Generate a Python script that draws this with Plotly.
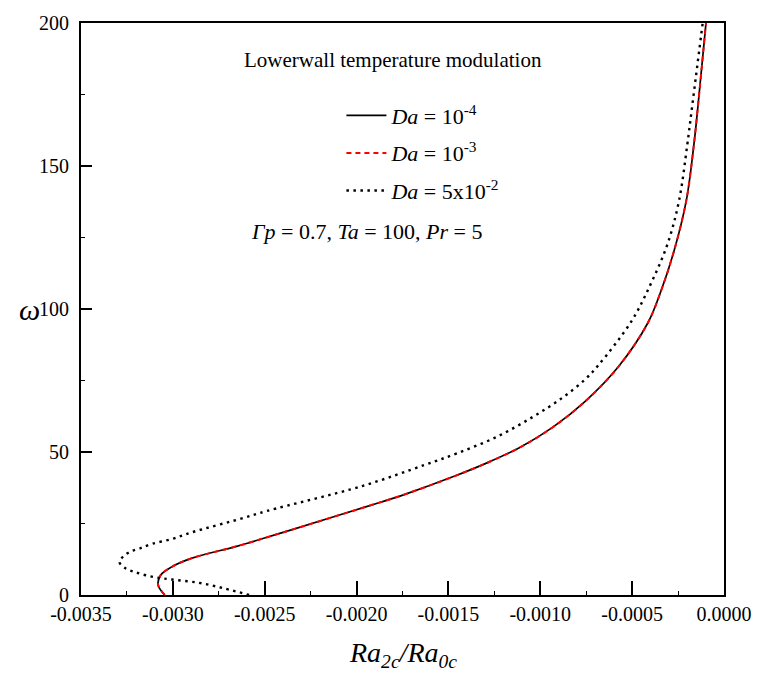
import plotly.graph_objects as go

# ---- data ----
da4_x = [-0.003044, -0.003080, -0.003067, -0.003007, -0.002900, -0.002648, -0.002487,
         -0.002364, -0.001951, -0.001737, -0.001469, -0.001290, -0.001111, -0.000933,
         -0.000754, -0.000575, -0.000414, -0.000343, -0.000272, -0.000205, -0.000164,
         -0.000143, -0.000098]
da4_y = [0.0, 3.46, 6.92, 9.79, 12.8, 17.1, 20.2,
         22.6, 30.8, 35.2, 41.5, 46.2, 51.6, 58.6,
         67.8, 79.8, 95.2, 106.3, 120.3, 138.0, 157.4,
         170.1, 200.0]

da3_x = list(da4_x)
da3_y = list(da4_y)

da52_x = [-0.002585, -0.002720, -0.002862, -0.003005, -0.003077, -0.003148, -0.003211,
          -0.003255, -0.003291, -0.003273, -0.003237, -0.003184, -0.003112, -0.003005,
          -0.002898, -0.002612, -0.002487, -0.001969, -0.001629, -0.001451, -0.001237,
          -0.001040, -0.000879, -0.000754, -0.000682, -0.000504, -0.000397, -0.000307,
          -0.000245, -0.000200, -0.000177, -0.000116]
da52_y = [0.0, 2.3, 4.3, 5.4, 6.0, 6.9, 8.1,
          9.2, 11.5, 13.3, 15.0, 16.2, 17.9, 19.6,
          21.9, 27.0, 29.4, 38.1, 45.5, 49.6, 55.3,
          62.3, 69.0, 75.5, 80.5, 95.7, 109.0, 122.8,
          137.8, 157.4, 169.0, 200.0]

x_tickvals = [-0.0035, -0.0030, -0.0025, -0.0020, -0.0015, -0.0010, -0.0005, 0.0]
x_ticktext = ["-0.0035", "-0.0030", "-0.0025", "-0.0020", "-0.0015", "-0.0010", "-0.0005", "0.0000"]
y_tickvals = [0, 50, 100, 150, 200]
y_ticktext = ["0", "50", "100", "150", "200"]

names = ["<i>Da</i> = 10<sup>-4</sup>", "<i>Da</i> = 10<sup>-3</sup>", "<i>Da</i> = 5x10<sup>-2</sup>"]

FONT = "Times New Roman, Liberation Serif, DejaVu Serif, serif"

fig = go.Figure()
fig.add_trace(go.Scatter(x=da4_x, y=da4_y, mode="lines", name=names[0], legendgroup="a",
                         line=dict(color="black", width=1.7, shape="spline", smoothing=1.0)))
fig.add_trace(go.Scatter(x=da3_x, y=da3_y, mode="lines", name=names[1], legendgroup="b",
                         line=dict(color="red", width=2, dash="5px,4px", shape="spline", smoothing=1.0)))
fig.add_trace(go.Scatter(x=da52_x, y=da52_y, mode="lines", name=names[2], legendgroup="c",
                         line=dict(color="black", width=2.4, dash="2.5px,4.5px", shape="spline", smoothing=1.0)))

axis_common = dict(showline=True, linecolor="black", linewidth=2, mirror=True,
                   showgrid=False, zeroline=False, ticks="inside", tickcolor="black",
                   tickwidth=1.5, tickfont=dict(family=FONT, size=20, color="black"))

fig.update_xaxes(range=[-0.0035, 0.0], tickvals=x_tickvals, ticktext=x_ticktext, ticklen=14,
                 minor=dict(dtick=0.00025, tick0=0, ticklen=4, tickwidth=1.2, tickcolor="black", ticks="inside"),
                 **axis_common)
fig.update_yaxes(range=[0, 200], tickvals=y_tickvals, ticktext=y_ticktext, ticklen=11,
                 ticklabelstandoff=6,
                 minor=dict(dtick=25, tick0=0, ticklen=4, tickwidth=1.2, tickcolor="black", ticks="inside"),
                 **axis_common)

fig.update_layout(
    width=764, height=683,
    margin=dict(l=81, r=30, t=17, b=88),
    paper_bgcolor="white", plot_bgcolor="white",
    font=dict(family=FONT, color="black"),
    showlegend=True,
    legend=dict(x=0.405, y=0.875, xanchor="left", yanchor="top",
                font=dict(family=FONT, size=22, color="black"),
                bgcolor="rgba(0,0,0,0)", tracegroupgap=6, itemwidth=40),
    annotations=[
        dict(text="Lowerwall temperature modulation", xref="paper", yref="paper",
             x=0.485, y=0.935, xanchor="center", yanchor="middle", showarrow=False,
             font=dict(family=FONT, size=21, color="black")),
        dict(text="<i>Γp</i> = 0.7, <i>Ta</i> = 100, <i>Pr</i> = 5", xref="paper", yref="paper",
             x=0.262, y=0.636, xanchor="left", yanchor="middle", showarrow=False,
             font=dict(family=FONT, size=22, color="black")),
        dict(text="<i>ω</i>", xref="paper", yref="paper", x=-0.08, y=0.5,
             xanchor="center", yanchor="middle", showarrow=False,
             font=dict(family=FONT, size=30, color="black")),
        dict(text="<i>Ra</i><sub><i>2c</i></sub><i>/Ra</i><sub><i>0c</i></sub>", xref="paper", yref="paper",
             x=0.5, y=-0.104, xanchor="center", yanchor="middle", showarrow=False,
             font=dict(family=FONT, size=28, color="black")),
    ],
)

fig.write_html("out.html")
